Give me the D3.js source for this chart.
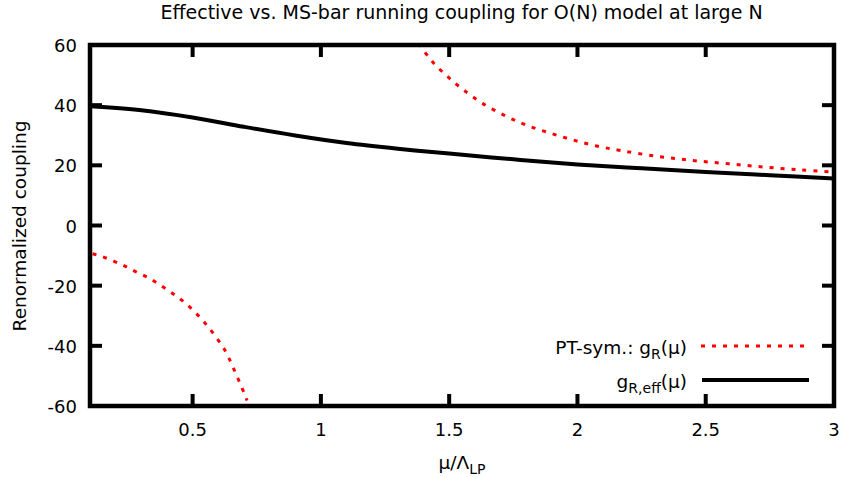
<!DOCTYPE html>
<html>
<head>
<meta charset="utf-8">
<script src="https://cdn.jsdelivr.net/npm/d3@7"></script>
<style>
  body { margin: 0; background: #fff; }
  svg text { font-family: "DejaVu Sans", sans-serif; fill: #000; }
</style>
</head>
<body>
<svg id="chart" width="843" height="477"></svg>
<script>
// effective coupling g_R,eff(mu)
var effMu  = [0.1, 0.3, 0.5, 0.7, 0.9, 1.1, 1.3, 1.5, 1.75, 2.0, 2.25, 2.5, 2.75, 3.0];
var effG   = [39.6, 38.3, 35.9, 32.8, 29.9, 27.4, 25.5, 23.9, 22.0, 20.3, 19.0, 17.8, 16.7, 15.6];

// PT-symmetric g_R(mu), lower branch
var lowMu  = [0.11, 0.147, 0.194, 0.236, 0.279, 0.322, 0.361, 0.40, 0.439, 0.474, 0.509, 0.540, 0.568, 0.599, 0.626, 0.646, 0.665, 0.685, 0.704, 0.712];
var lowG   = [-9.4, -10.3, -11.9, -13.5, -15.4, -17.1, -19.1, -21.3, -23.6, -26.0, -28.8, -31.6, -34.5, -38.0, -41.5, -44.9, -48.6, -52.5, -56.4, -58.2];

// PT-symmetric g_R(mu), upper branch
var upMu   = [1.38, 1.42, 1.45, 1.49, 1.52, 1.56, 1.63, 1.72, 1.80, 1.89, 1.98, 2.07, 2.17, 2.31, 2.45, 2.59, 2.73, 2.87, 3.0];
var upG    = [60.5, 56.0, 53.0, 49.8, 47.5, 44.8, 40.6, 36.4, 33.4, 30.8, 28.5, 26.5, 24.9, 23.0, 21.6, 20.5, 19.4, 18.5, 17.7];

var xTicks = [0.5, 1, 1.5, 2, 2.5, 3];
var yTicks = [-60, -40, -20, 0, 20, 40, 60];

var svg = d3.select("#chart");
var mLeft = 90, mRight = 834, mTop = 45, mBottom = 406;

var x = d3.scaleLinear().domain([0.1, 3]).range([mLeft, mRight]);
var y = d3.scaleLinear().domain([-60, 60]).range([mBottom, mTop]);

svg.append("defs").append("clipPath").attr("id", "clip")
    .append("rect")
    .attr("x", mLeft).attr("y", mTop)
    .attr("width", mRight - mLeft).attr("height", mBottom - mTop);

var line = d3.line()
    .x(function(d) { return x(d[0]); })
    .y(function(d) { return y(d[1]); })
    .curve(d3.curveCatmullRom);

function pairs(a, b) {
    return a.map(function(v, i) { return [v, b[i]]; });
}

var plot = svg.append("g").attr("clip-path", "url(#clip)");

plot.append("path")
    .datum(pairs(lowMu, lowG))
    .attr("d", line)
    .attr("fill", "none")
    .attr("stroke", "#ff0000")
    .attr("stroke-width", 3)
    .attr("stroke-dasharray", "4,7");

plot.append("path")
    .datum(pairs(upMu, upG))
    .attr("d", line)
    .attr("fill", "none")
    .attr("stroke", "#ff0000")
    .attr("stroke-width", 3)
    .attr("stroke-dasharray", "4,7");

plot.append("path")
    .datum(pairs(effMu, effG))
    .attr("d", line)
    .attr("fill", "none")
    .attr("stroke", "#000")
    .attr("stroke-width", 4);

// ticks on all sides, pointing inward
var tickLen = 12;
var ticks = svg.append("g").attr("stroke", "#000").attr("stroke-width", 4);
xTicks.forEach(function(t) {
    ticks.append("line").attr("x1", x(t)).attr("x2", x(t)).attr("y1", mBottom).attr("y2", mBottom - tickLen);
    ticks.append("line").attr("x1", x(t)).attr("x2", x(t)).attr("y1", mTop).attr("y2", mTop + tickLen);
});
yTicks.forEach(function(t) {
    ticks.append("line").attr("x1", mLeft).attr("x2", mLeft + tickLen).attr("y1", y(t)).attr("y2", y(t));
    ticks.append("line").attr("x1", mRight).attr("x2", mRight - tickLen).attr("y1", y(t)).attr("y2", y(t));
});

// frame
svg.append("rect")
    .attr("x", mLeft).attr("y", mTop)
    .attr("width", mRight - mLeft).attr("height", mBottom - mTop)
    .attr("fill", "none")
    .attr("stroke", "#000")
    .attr("stroke-width", 4.5);

// tick labels
svg.selectAll(".xl").data(xTicks).enter().append("text")
    .attr("x", function(d) { return x(d); })
    .attr("y", 436)
    .attr("text-anchor", "middle")
    .style("font-size", "18px")
    .text(function(d) { return d; });

svg.selectAll(".yl").data(yTicks).enter().append("text")
    .attr("x", 77)
    .attr("y", function(d) { return y(d) + 7; })
    .attr("text-anchor", "end")
    .style("font-size", "18px")
    .text(function(d) { return d; });

// title and axis labels
svg.append("text")
    .attr("x", 461.5).attr("y", 19)
    .attr("text-anchor", "middle")
    .style("font-size", "19px")
    .text("Effective vs. MS-bar running coupling for O(N) model at large N");

svg.append("text")
    .attr("transform", "translate(26,226) rotate(-90)")
    .attr("text-anchor", "middle")
    .style("font-size", "18.5px")
    .text("Renormalized coupling");

var xl = svg.append("text")
    .attr("x", 462).attr("y", 469)
    .attr("text-anchor", "middle")
    .style("font-size", "18.5px");
xl.append("tspan").text("\u03bc/\u039b");
xl.append("tspan").attr("dy", 5).style("font-size", "14px").text("LP");

// legend
var lg = svg.append("g");
var t1 = lg.append("text").attr("x", 687).attr("y", 354)
    .attr("text-anchor", "end").style("font-size", "18.5px");
t1.append("tspan").text("PT-sym.: g");
t1.append("tspan").attr("dy", 5).style("font-size", "14px").text("R");
t1.append("tspan").attr("dy", -5).text("(\u03bc)");

var t2 = lg.append("text").attr("x", 687).attr("y", 388)
    .attr("text-anchor", "end").style("font-size", "18.5px");
t2.append("tspan").text("g");
t2.append("tspan").attr("dy", 5).style("font-size", "14px").text("R,eff");
t2.append("tspan").attr("dy", -5).text("(\u03bc)");

lg.append("line")
    .attr("x1", 701).attr("x2", 806).attr("y1", 346).attr("y2", 346)
    .attr("stroke", "#ff0000").attr("stroke-width", 3)
    .attr("stroke-dasharray", "4,7");
lg.append("line")
    .attr("x1", 702).attr("x2", 809).attr("y1", 380).attr("y2", 380)
    .attr("stroke", "#000").attr("stroke-width", 4);
</script>
</body>
</html>
